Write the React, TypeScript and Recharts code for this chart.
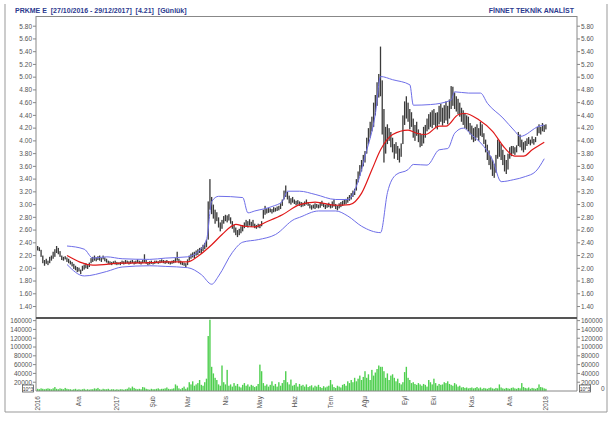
import { ComposedChart, Bar, Line, XAxis, YAxis } from 'recharts';

// daily low / high, 27/10/2016 - 29/12/2017
const LOW = [
  2.28, 2.27, 2.18, 2.08, 2.04, 2.07, 2.05, 2.08, 2.12, 2.15,
  2.18, 2.24, 2.22, 2.18, 2.13, 2.12, 2.14, 2.10, 2.08, 2.06,
  2.03, 1.99, 1.97, 1.94, 1.95, 1.91, 1.96, 1.98, 2.00, 1.99,
  2.02, 2.08, 2.10, 2.12, 2.11, 2.13, 2.12, 2.10, 2.14, 2.11,
  2.09, 2.07, 2.06, 2.05, 2.07, 2.06, 2.05, 2.06, 2.05, 2.07,
  2.06, 2.07, 2.08, 2.06, 2.07, 2.08, 2.06, 2.07, 2.08, 2.07,
  2.06, 2.08, 2.09, 2.07, 2.05, 2.06, 2.07, 2.06, 2.07, 2.08,
  2.07, 2.08, 2.09, 2.08, 2.07, 2.08, 2.07, 2.06, 2.07, 2.08,
  2.09, 2.12, 2.08, 2.06, 2.05, 2.04, 2.02, 2.05, 2.12, 2.15,
  2.17, 2.16, 2.20, 2.21, 2.24, 2.23, 2.27, 2.30, 2.33, 2.45,
  2.92, 2.85, 2.78, 2.70, 2.74, 2.64, 2.58, 2.62, 2.70, 2.74,
  2.72, 2.75, 2.70, 2.62, 2.56, 2.52, 2.49, 2.52, 2.55, 2.58,
  2.63, 2.66, 2.64, 2.67, 2.65, 2.66, 2.63, 2.62, 2.64, 2.63,
  2.66, 2.78, 2.84, 2.86, 2.87, 2.88, 2.86, 2.88, 2.89, 2.90,
  2.91, 2.93, 2.98, 3.08, 3.12, 3.08, 3.02, 3.00, 3.03, 3.01,
  2.99, 3.00, 2.98, 2.96, 2.97, 2.98, 3.00, 2.98, 2.94, 2.92,
  2.94, 2.93, 2.95, 2.94, 2.95, 2.98, 2.96, 2.93, 2.95, 2.96,
  2.94, 2.95, 2.97, 2.93, 2.91, 2.94, 2.96, 2.98, 3.00, 3.01,
  3.03, 3.06, 3.08, 3.12, 3.15, 3.22, 3.35, 3.45, 3.52, 3.60,
  3.66, 3.80, 3.95, 4.05, 4.15, 4.22, 4.40, 4.55, 4.68, 4.70,
  4.10, 3.66, 3.80, 3.95, 4.00, 3.90, 3.82, 3.72, 3.80, 3.70,
  3.66, 3.75, 3.95, 4.25, 4.35, 4.30, 4.18, 4.22, 4.05, 4.00,
  4.08, 3.98, 3.90, 3.92, 3.96, 4.05, 4.15, 4.18, 4.22, 4.20,
  4.25, 4.22, 4.18, 4.26, 4.30, 4.24, 4.28, 4.32, 4.26, 4.35,
  4.50, 4.55, 4.50, 4.46, 4.42, 4.38, 4.30, 4.25, 4.20, 4.18,
  4.15, 4.10, 4.02, 3.98, 4.00, 4.05, 4.00, 4.08, 4.06, 3.95,
  3.82, 3.70, 3.62, 3.55, 3.45, 3.42, 3.50, 3.72, 3.75, 3.70,
  3.62, 3.52, 3.48, 3.55, 3.72, 3.76, 3.80, 3.78, 3.82, 3.92,
  3.90, 3.85, 3.82, 3.86, 3.92, 3.95, 3.93, 3.96, 3.94, 3.98,
  4.08, 4.12, 4.10, 4.15, 4.14, 4.18,
];

const HIGH = [
  2.35, 2.33, 2.29, 2.20, 2.13, 2.15, 2.12, 2.18, 2.20, 2.26,
  2.30, 2.35, 2.32, 2.27, 2.20, 2.18, 2.19, 2.17, 2.15, 2.12,
  2.10, 2.07, 2.04, 2.02, 2.01, 1.98, 2.04, 2.06, 2.08, 2.05,
  2.09, 2.16, 2.18, 2.20, 2.17, 2.19, 2.20, 2.16, 2.20, 2.17,
  2.15, 2.12, 2.11, 2.10, 2.11, 2.12, 2.10, 2.09, 2.10, 2.12,
  2.11, 2.13, 2.12, 2.11, 2.12, 2.13, 2.11, 2.12, 2.14, 2.12,
  2.11, 2.13, 2.22, 2.13, 2.10, 2.11, 2.12, 2.10, 2.12, 2.12,
  2.11, 2.13, 2.14, 2.13, 2.12, 2.13, 2.11, 2.10, 2.12, 2.13,
  2.16, 2.26, 2.15, 2.12, 2.10, 2.09, 2.08, 2.14, 2.20, 2.23,
  2.25, 2.26, 2.28, 2.30, 2.32, 2.33, 2.37, 2.40, 2.45, 3.05,
  3.40, 3.12, 3.00, 2.92, 2.88, 2.80, 2.72, 2.76, 2.82, 2.84,
  2.83, 2.85, 2.80, 2.74, 2.68, 2.64, 2.60, 2.62, 2.66, 2.68,
  2.72, 2.76, 2.74, 2.77, 2.73, 2.76, 2.70, 2.68, 2.70, 2.69,
  2.74, 2.92, 2.98, 2.94, 2.95, 2.94, 2.93, 2.96, 2.95, 2.97,
  2.98, 3.02, 3.08, 3.22, 3.30, 3.20, 3.14, 3.10, 3.12, 3.08,
  3.06, 3.07, 3.05, 3.04, 3.03, 3.05, 3.08, 3.04, 3.01, 2.99,
  3.00, 3.02, 3.01, 3.00, 3.04, 3.06, 3.02, 3.00, 3.01, 3.03,
  3.00, 3.05, 3.08, 3.01, 2.98, 3.02, 3.04, 3.06, 3.08, 3.09,
  3.12, 3.15, 3.18, 3.22, 3.25, 3.40, 3.52, 3.62, 3.70, 3.78,
  3.84, 4.05, 4.20, 4.30, 4.38, 4.60, 4.72, 4.92, 5.05, 5.48,
  4.95, 4.50, 4.22, 4.26, 4.20, 4.14, 4.05, 3.95, 3.98, 3.92,
  3.88, 3.96, 4.40, 4.62, 4.70, 4.60, 4.50, 4.45, 4.35, 4.25,
  4.30, 4.18, 4.12, 4.10, 4.22, 4.25, 4.35, 4.42, 4.45, 4.48,
  4.50, 4.44, 4.45, 4.55, 4.58, 4.52, 4.56, 4.62, 4.55, 4.65,
  4.86, 4.85, 4.76, 4.70, 4.66, 4.60, 4.52, 4.48, 4.44, 4.40,
  4.38, 4.28, 4.24, 4.20, 4.22, 4.26, 4.20, 4.30, 4.26, 4.12,
  4.02, 3.94, 3.85, 3.76, 3.70, 3.64, 3.78, 4.02, 4.00, 3.95,
  3.86, 3.78, 3.70, 3.80, 3.90, 3.92, 3.92, 3.90, 3.93, 4.14,
  4.10, 4.02, 3.98, 4.00, 4.04, 4.06, 4.02, 4.07, 4.03, 4.06,
  4.22, 4.26, 4.22, 4.28, 4.25, 4.26,
];

const VOLUME = [
  5000, 4000, 6000, 5000, 4000, 5000, 6000, 5000, 4000, 6000,
  9000, 5000, 4000, 6000, 5000, 4000, 7000, 5000, 4000, 4000,
  3000, 4000, 5000, 3000, 4000, 3000, 4000, 5000, 3000, 4000,
  3000, 4000, 4000, 6000, 5000, 7000, 4000, 3000, 5000, 4000,
  4000, 5000, 3000, 4000, 4000, 3000, 4000, 3000, 4000, 4000,
  3000, 4000, 5000, 8000, 6000, 10000, 7000, 5000, 4000, 5000,
  4000, 9000, 8000, 5000, 4000, 3000, 5000, 4000, 4000, 5000,
  6000, 4000, 5000, 5000, 6000, 8000, 5000, 4000, 5000, 6000,
  15000, 12000, 6000, 4000, 7000, 10000, 5000, 8000, 20000, 15000,
  22000, 12000, 15000, 18000, 25000, 14000, 12000, 20000, 28000, 125000,
  162000, 55000, 40000, 30000, 25000, 15000, 12000, 58000, 20000, 15000,
  48000, 12000, 15000, 10000, 18000, 12000, 16000, 10000, 8000, 14000,
  18000, 12000, 15000, 10000, 14000, 12000, 9000, 11000, 16000, 60000,
  45000, 18000, 12000, 15000, 10000, 14000, 22000, 12000, 16000, 10000,
  20000, 12000, 18000, 25000, 45000, 20000, 15000, 26000, 12000, 14000,
  18000, 10000, 16000, 12000, 14000, 10000, 15000, 9000, 11000, 13000,
  8000, 12000, 10000, 14000, 9000, 7000, 11000, 8000, 10000, 12000,
  25000, 15000, 9000, 7000, 12000, 10000, 8000, 14000, 16000, 12000,
  22000, 18000, 25000, 20000, 30000, 22000, 28000, 35000, 25000, 32000,
  45000, 30000, 38000, 25000, 48000, 35000, 42000, 50000, 58000, 55000,
  55000, 45000, 30000, 40000, 25000, 35000, 38000, 30000, 22000, 28000,
  18000, 15000, 20000, 43000, 55000, 30000, 25000, 18000, 20000, 16000,
  14000, 18000, 15000, 12000, 16000, 14000, 10000, 25000, 20000, 15000,
  28000, 18000, 12000, 16000, 14000, 15000, 20000, 18000, 22000, 16000,
  14000, 12000, 18000, 15000, 10000, 12000, 8000, 9000, 7000, 8000,
  6000, 7000, 8000, 6000, 7000, 9000, 6000, 8000, 5000, 7000,
  6000, 5000, 7000, 8000, 6000, 5000, 7000, 6000, 15000, 8000,
  6000, 5000, 7000, 6000, 5000, 7000, 8000, 6000, 5000, 7000,
  6000, 18000, 9000, 7000, 6000, 8000, 5000, 7000, 6000, 5000,
  7000, 15000, 9000, 8000, 6000, 5000,
];

// [day index, value]
const BAND_UPPER = [
  [17, 2.35], [27, 2.3], [32, 2.16], [40, 2.18], [49, 2.15], [65, 2.14], [74, 2.16],
  [87, 2.18], [93, 2.26], [98, 2.45], [101, 3.05], [105, 3.13], [119, 3.11], [122, 2.87],
  [126, 2.9], [136, 2.97], [142, 3.05], [145, 3.21], [152, 3.21], [161, 3.16], [173, 3.08],
  [180, 3.08], [185, 3.29], [190, 3.76], [196, 4.43], [199, 5.01], [206, 4.96], [216, 4.88],
  [218, 4.56], [228, 4.57], [240, 4.64], [242, 4.77], [250, 4.75], [257, 4.75], [261, 4.59],
  [270, 4.36], [277, 4.15], [280, 4.07], [291, 4.23], [294, 4.25],
];
const BAND_MIDDLE = [
  [17, 2.2], [32, 2.05], [48, 2.08], [65, 2.09], [74, 2.1], [87, 2.1], [93, 2.19],
  [101, 2.37], [107, 2.53], [115, 2.69], [120, 2.66], [126, 2.65], [132, 2.72], [142, 2.84],
  [152, 3.0], [161, 3.04], [173, 2.99], [181, 3.0], [188, 3.18], [194, 3.55], [199, 3.86],
  [206, 4.1], [215, 4.17], [220, 4.12], [225, 4.1], [233, 4.23], [237, 4.23], [244, 4.41],
  [248, 4.43], [256, 4.33], [264, 4.15], [271, 3.89], [277, 3.76], [282, 3.76], [287, 3.86],
  [294, 3.98],
];
const BAND_LOWER = [
  [17, 2.06], [27, 1.88], [40, 1.95], [49, 2.02], [65, 2.04], [74, 2.03], [87, 2.01],
  [95, 1.9], [101, 1.75], [105, 1.88], [113, 2.25], [119, 2.41], [128, 2.45], [138, 2.53],
  [149, 2.77], [152, 2.8], [163, 2.9], [173, 2.9], [180, 2.82], [188, 2.66], [199, 2.56],
  [203, 3.19], [208, 3.47], [215, 3.55], [218, 3.63], [226, 3.62], [233, 3.86], [238, 3.88],
  [242, 4.12], [247, 4.2], [252, 4.09], [259, 3.91], [264, 3.7], [269, 3.36], [276, 3.39],
  [283, 3.44], [289, 3.52], [294, 3.72],
];

const MONTH_IDX = [0, 24, 46, 67, 87, 109, 129, 149, 170, 190, 213, 230, 252, 274, 295];
const MONTH_LABELS = ['2016', 'Ara', '2017', 'Şub', 'Mar', 'Nis', 'May', 'Haz', 'Tem', 'Ağu', 'Eyl', 'Eki', 'Kas', 'Ara', '2018'];

const PRICE_TICKS = [1.4, 1.6, 1.8, 2.0, 2.2, 2.4, 2.6, 2.8, 3.0, 3.2, 3.4, 3.6, 3.8, 4.0, 4.2, 4.4, 4.6, 4.8, 5.0, 5.2, 5.4, 5.6, 5.8];
const VOLUME_TICKS = [20000, 40000, 60000, 80000, 100000, 120000, 140000, 160000];

const rows: any[] = LOW.map((lo, i) => ({ i, range: [lo, HIGH[i]], vol: VOLUME[i] }));
BAND_UPPER.forEach(([i, v]) => (rows[i].upper = v));
BAND_MIDDLE.forEach(([i, v]) => (rows[i].middle = v));
BAND_LOWER.forEach(([i, v]) => (rows[i].lower = v));

const FONT = '"Liberation Sans", Arial, sans-serif';
const tickStyle = { fontSize: 6.5, fill: '#555', fontFamily: FONT };
const X_DOMAIN = [-1, 313];

function PriceBar(props: any) {
  const { x, y, width, height } = props;
  const top = Math.min(y, y + height);
  const h = Math.max(Math.abs(height), 1);
  return <rect x={x + width / 2 - 0.65} y={top} width={1.3} height={h} fill="#3a3a3a" />;
}

function VolBar(props: any) {
  const { x, y, width, height } = props;
  const top = Math.min(y, y + height);
  return <rect x={x + width / 2 - 0.7} y={top} width={1.4} height={Math.abs(height)} fill="#4fcf4f" />;
}

function MonthTick(props: any) {
  const { x, y, payload } = props;
  const k = MONTH_IDX.indexOf(payload.value);
  return (
    <text x={x} y={y} transform={`rotate(-90 ${x} ${y})`} textAnchor="end" dy="0.35em" fontSize={6.5} fill="#555" fontFamily={FONT}>
      {MONTH_LABELS[k]}
    </text>
  );
}

export default function App() {
  return (
    <div style={{ position: 'absolute', left: 0, top: 0, width: 612, height: 421, background: '#fff' }}>
      <div style={{ position: 'absolute', left: 0, top: 0 }}>
        <ComposedChart width={612} height={320} data={rows} margin={{ top: 16, right: 5, bottom: 2, left: 6 }}>
          <XAxis type="number" dataKey="i" domain={X_DOMAIN} hide allowDataOverflow />
          <YAxis yAxisId="l" width={30} domain={[1.22, 5.96]} ticks={PRICE_TICKS} allowDataOverflow interval={0}
            tick={tickStyle} tickSize={3} tickMargin={1} stroke="#888" tickFormatter={(v) => v.toFixed(2)} />
          <YAxis yAxisId="r" orientation="right" width={30} domain={[1.22, 5.96]} ticks={PRICE_TICKS} allowDataOverflow interval={0}
            tick={tickStyle} tickSize={3} tickMargin={1} stroke="#888" tickFormatter={(v) => v.toFixed(2)} />
          <Bar yAxisId="l" dataKey="range" barSize={2} shape={PriceBar} isAnimationActive={false} />
          <Line yAxisId="l" type="monotone" dataKey="upper" stroke="#6e6ee8" strokeWidth={1} dot={false} connectNulls isAnimationActive={false} />
          <Line yAxisId="l" type="monotone" dataKey="lower" stroke="#6e6ee8" strokeWidth={1} dot={false} connectNulls isAnimationActive={false} />
          <Line yAxisId="l" type="monotone" dataKey="middle" stroke="#e01818" strokeWidth={1.2} dot={false} connectNulls isAnimationActive={false} />
        </ComposedChart>
      </div>
      <div style={{ position: 'absolute', left: 0, top: 318 }}>
        <ComposedChart width={612} height={103} data={rows} margin={{ top: 0, right: 5, bottom: 0, left: 6 }}>
          <XAxis type="number" dataKey="i" domain={X_DOMAIN} allowDataOverflow ticks={MONTH_IDX} interval={0}
            height={30} tick={<MonthTick />} tickLine={false} tickSize={3} tickMargin={2} stroke="#888" />
          <YAxis yAxisId="l" width={30} domain={[0, 166000]} ticks={VOLUME_TICKS} allowDataOverflow interval={0}
            tick={tickStyle} tickSize={3} tickMargin={1} stroke="#888" />
          <YAxis yAxisId="r" orientation="right" width={30} domain={[0, 166000]} ticks={VOLUME_TICKS} allowDataOverflow interval={0}
            tick={tickStyle} tickSize={3} tickMargin={1} stroke="#888" />
          <Bar yAxisId="l" dataKey="vol" barSize={2} shape={VolBar} isAnimationActive={false} />
        </ComposedChart>
      </div>
      <svg width={612} height={421} style={{ position: 'absolute', left: 0, top: 0, pointerEvents: 'none' }} fontFamily={FONT}>
        <text x={15} y={13} fontSize={7} fontWeight="bold" fill="#2b3a8f" xmlSpace="preserve">
          PRKME E  [27/10/2016 - 29/12/2017]  [4.21]  [Günlük]
        </text>
        <text x={574} y={13} fontSize={7} fontWeight="bold" fill="#2b3a8f" textAnchor="end">
          FİNNET TEKNİK ANALİST
        </text>
        <line x1={36} y1={16.5} x2={577} y2={16.5} stroke="#888" strokeWidth={1} />
        <line x1={36} y1={318} x2={577} y2={318} stroke="#555" strokeWidth={2} />
        <polyline points="5,4 5,412 607,412 607,4" fill="none" stroke="#999" strokeWidth={1} />
        <rect x={22.5} y={385} width={11} height={7} fill="#fff" stroke="#555" strokeWidth={0.8} />
        <text x={28} y={390.5} fontSize={5} fill="#333" textAnchor="middle">10^3</text>
        <rect x={579.5} y={385} width={11} height={7} fill="#fff" stroke="#555" strokeWidth={0.8} />
        <text x={585} y={390.5} fontSize={5} fill="#333" textAnchor="middle">10^3</text>
        <text x={601} y={391} fontSize={6.5} fill="#555">0</text>
      </svg>
    </div>
  );
}
